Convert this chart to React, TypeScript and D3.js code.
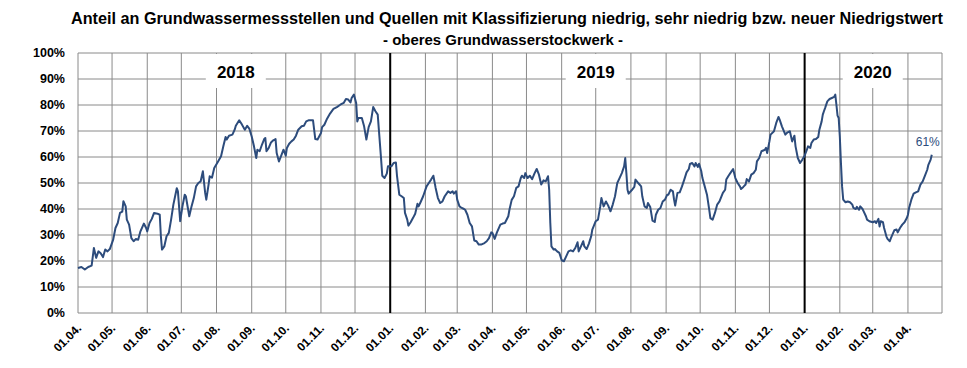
import React from 'react';
import * as d3 from 'd3';

// Share of monitoring sites with low / very low / new-low classification (in %)
const days2018 = [
  '04-01', '04-04', '04-07', '04-10', '04-13', '04-15', '04-17', '04-19', '04-21', '04-23', '04-25', '04-27', '04-29',
  '05-02', '05-04', '05-06', '05-08', '05-10', '05-11', '05-13', '05-14', '05-16', '05-18', '05-20', '05-22', '05-24', '05-26', '05-29', '05-31',
  '06-01', '06-03', '06-05', '06-07', '06-10', '06-12', '06-13', '06-14', '06-16', '06-18', '06-20', '06-22', '06-24', '06-27', '06-28', '06-30',
  '07-02', '07-04', '07-05', '07-08', '07-10', '07-12', '07-14', '07-16', '07-18', '07-20', '07-22', '07-23', '07-25', '07-26', '07-28', '07-30',
  '08-02', '08-05', '08-07', '08-09', '08-10', '08-12', '08-15', '08-17', '08-18', '08-21', '08-23', '08-25', '08-26', '08-28', '08-30',
  '09-01', '09-03', '09-05', '09-06', '09-08', '09-10', '09-12', '09-13', '09-14', '09-16', '09-18', '09-20', '09-22', '09-23', '09-25', '09-27', '09-29',
  '10-01', '10-02', '10-04', '10-06', '10-08', '10-10', '10-12', '10-15', '10-17', '10-19', '10-21', '10-25', '10-26', '10-27', '10-29',
  '11-01', '11-02', '11-04', '11-06', '11-09', '11-12', '11-15', '11-18', '11-21', '11-23', '11-25', '11-27', '11-28', '11-30',
  '12-02', '12-03', '12-04', '12-07', '12-09', '12-11', '12-13', '12-15', '12-17', '12-19', '12-21', '12-22', '12-24', '12-25', '12-27', '12-29', '12-30',
];
const share2018 = [
  17.3, 17.7, 16.7, 17.7, 18.2, 25.0, 21.2, 23.7, 23.0, 21.5, 24.4, 23.7, 24.6,
  28.2, 32.7, 34.6, 38.5, 39.0, 43.0, 41.0, 35.9, 34.0, 28.8, 27.6, 28.5, 28.2, 31.4, 34.4, 32.7,
  31.4, 34.6, 36.2, 38.5, 38.2, 37.8, 29.5, 24.4, 25.6, 29.5, 30.8, 35.9, 41.7, 48.0, 46.8, 35.3,
  41.0, 45.5, 44.9, 37.2, 41.0, 44.2, 48.7, 50.0, 50.6, 54.5, 46.2, 43.6, 49.4, 52.6, 52.0, 55.8,
  58.0, 60.3, 64.1, 67.7, 66.7, 68.2, 68.6, 70.5, 72.0, 74.1, 72.8, 71.2, 70.5, 72.0, 70.8,
  67.9, 64.1, 59.6, 62.8, 62.2, 64.7, 66.9, 67.3, 62.2, 63.5, 65.6, 66.4, 66.9, 61.5, 58.3, 60.5, 62.8,
  60.5, 63.5, 65.1, 66.0, 66.7, 68.2, 70.5, 71.8, 72.0, 73.7, 74.1, 74.1, 70.5, 66.9, 66.7,
  69.2, 71.5, 72.4, 74.4, 76.7, 78.5, 79.2, 80.1, 80.8, 82.3, 82.1, 81.0, 82.7, 84.0,
  80.8, 73.7, 75.0, 75.0, 71.8, 66.7, 71.5, 73.7, 79.2, 77.6, 76.3, 70.5, 59.0, 52.8, 51.9, 53.6, 56.4,
];

const days2019 = [
  '01-02', '01-04', '01-06', '01-07', '01-09', '01-11', '01-13', '01-14', '01-16', '01-17', '01-19', '01-21', '01-23', '01-25', '01-26', '01-28', '01-30',
  '02-02', '02-04', '02-06', '02-08', '02-10', '02-12', '02-14', '02-16', '02-18', '02-21', '02-23', '02-25', '02-26', '02-28',
  '03-01', '03-03', '03-05', '03-07', '03-08', '03-10', '03-12', '03-14', '03-16', '03-18', '03-20', '03-22', '03-25', '03-27', '03-29', '03-31',
  '04-01', '04-03', '04-05', '04-08', '04-10', '04-12', '04-15', '04-16', '04-18', '04-20', '04-22', '04-24', '04-26', '04-27', '04-29', '04-30',
  '05-02', '05-04', '05-06', '05-08', '05-10', '05-12', '05-14', '05-16', '05-18', '05-20', '05-21', '05-22', '05-23', '05-25', '05-26', '05-28', '05-30',
  '06-01', '06-03', '06-05', '06-07', '06-09', '06-11', '06-13', '06-15', '06-16', '06-18', '06-20', '06-21', '06-23', '06-25', '06-27', '06-28',
  '07-01', '07-03', '07-05', '07-06', '07-08', '07-10', '07-12', '07-14', '07-16', '07-18', '07-20', '07-22', '07-24', '07-26', '07-27', '07-28', '07-29', '07-30',
  '08-02', '08-04', '08-05', '08-08', '08-10', '08-11', '08-13', '08-15', '08-16', '08-18', '08-20', '08-22', '08-23', '08-25', '08-27', '08-29', '08-31',
  '09-02', '09-03', '09-05', '09-07', '09-08', '09-09', '09-11', '09-13', '09-15', '09-17', '09-19', '09-21', '09-22', '09-24', '09-26', '09-27', '09-29', '09-30',
  '10-02', '10-03', '10-05', '10-07', '10-09', '10-10', '10-12', '10-14', '10-16', '10-18', '10-21', '10-23', '10-24', '10-26', '10-28', '10-30',
  '11-01', '11-03', '11-05', '11-06', '11-08', '11-10', '11-11', '11-13', '11-15', '11-17', '11-19', '11-20', '11-22', '11-24', '11-27', '11-28', '11-29',
  '12-01', '12-02', '12-05', '12-07', '12-09', '12-10', '12-12', '12-15', '12-17', '12-19', '12-21', '12-23', '12-24', '12-26', '12-28', '12-30',
];
const share2019 = [
  56.4, 57.7, 57.9, 52.6, 45.5, 44.9, 44.2, 38.5, 35.9, 33.6, 34.9, 36.5, 38.2, 42.0, 41.0, 42.9, 44.9,
  48.7, 50.0, 51.3, 52.8, 48.1, 44.2, 42.3, 42.9, 44.9, 46.8, 46.2, 46.8, 45.9, 46.8,
  43.6, 41.0, 40.4, 40.0, 39.7, 37.8, 34.6, 33.3, 27.9, 27.6, 26.3, 26.3, 26.9, 27.6, 28.8, 31.0,
  30.8, 28.5, 31.0, 34.0, 34.4, 34.6, 37.2, 39.7, 43.5, 44.9, 48.1, 48.7, 51.9, 52.8, 51.9, 53.8,
  51.9, 52.8, 51.5, 53.6, 55.4, 53.2, 49.4, 51.0, 50.6, 52.6, 47.4, 34.6, 25.6, 24.4, 24.6, 23.7, 23.1,
  20.3, 19.9, 21.8, 23.7, 24.1, 23.7, 25.0, 27.2, 23.7, 25.6, 27.6, 25.6, 24.6, 26.7, 29.5, 32.1,
  35.3, 35.9, 41.0, 44.2, 41.0, 42.9, 41.3, 39.1, 41.7, 44.9, 50.0, 51.9, 53.8, 56.4, 59.6, 53.8, 47.4, 45.9,
  47.4, 48.5, 51.3, 49.7, 48.7, 44.9, 41.0, 40.4, 42.3, 40.8, 35.5, 35.0, 37.8, 39.7, 40.4, 42.9, 43.6,
  45.5, 45.5, 47.4, 46.8, 43.6, 41.3, 46.2, 46.4, 48.7, 51.3, 54.1, 55.4, 57.3, 57.7, 56.4, 57.7, 56.2, 57.4,
  54.5, 51.9, 48.7, 45.5, 39.7, 36.5, 35.9, 38.5, 41.7, 42.9, 46.2, 47.4, 51.3, 52.8, 54.1, 55.4,
  51.9, 50.0, 48.7, 47.7, 48.5, 49.4, 51.5, 50.6, 53.2, 53.8, 55.1, 58.3, 59.6, 62.2, 62.8, 63.5, 61.5,
  66.0, 68.6, 69.9, 73.1, 75.4, 74.4, 71.8, 68.6, 69.5, 69.9, 66.0, 68.2, 64.1, 59.6, 57.7, 59.0,
];

const days2020 = [
  '01-01', '01-03', '01-04', '01-06', '01-07', '01-09', '01-11', '01-13', '01-14', '01-16', '01-17', '01-18', '01-19', '01-21', '01-23', '01-25', '01-27', '01-28', '01-29', '01-30', '01-31',
  '02-01', '02-02', '02-03', '02-04', '02-06', '02-08', '02-10', '02-12', '02-13', '02-15', '02-16', '02-18', '02-19', '02-21', '02-22', '02-24', '02-25', '02-27',
  '03-01', '03-03', '03-04', '03-06', '03-07', '03-08', '03-10', '03-11', '03-13', '03-14', '03-16', '03-17', '03-19', '03-20', '03-22', '03-23', '03-25', '03-27', '03-29', '03-31',
  '04-01', '04-02', '04-04', '04-06', '04-08', '04-10', '04-12', '04-14', '04-16', '04-18', '04-19', '04-21', '04-22',
];
const share2020 = [
  60.5, 62.8, 64.1, 63.5, 65.4, 66.7, 66.9, 67.7, 70.5, 73.7, 76.3, 77.6, 78.8, 81.4, 82.3, 82.7, 83.1, 84.0, 80.1, 75.9, 75.0,
  67.9, 57.7, 48.7, 43.6, 42.6, 42.9, 42.6, 41.7, 40.4, 40.0, 40.8, 39.7, 41.0, 40.0, 39.1, 37.2, 35.9, 35.3,
  34.9, 35.3, 34.6, 36.2, 33.3, 35.3, 34.9, 32.7, 29.5, 28.5, 27.6, 28.8, 30.8, 31.8, 32.1, 31.0, 32.7, 34.0, 34.9, 36.5,
  37.8, 40.4, 43.6, 45.9, 46.4, 46.8, 49.4, 50.6, 52.8, 55.1, 57.0, 59.0, 60.9,
];

const yearLabels = ['2018', '2019', '2020'];
const yearLabelCenters = ['2018-08-18', '2019-07-01', '2020-03-01'];
const yearBreaks = ['2019-01-01', '2020-01-01'];
const yTicks = [0, 10, 20, 30, 40, 50, 60, 70, 80, 90, 100];
const lastLabel = '61%';

const title = 'Anteil an Grundwassermessstellen und Quellen mit Klassifizierung niedrig, sehr niedrig bzw. neuer Niedrigstwert';
const subtitle = '- oberes Grundwasserstockwerk -';

const parse = d3.timeParse('%Y-%m-%d');
const fmtTick = d3.timeFormat('%d.%m.');

const data = [
  ...days2018.map((d, i) => ({ date: parse(`2018-${d}`)!, v: share2018[i] })),
  ...days2019.map((d, i) => ({ date: parse(`2019-${d}`)!, v: share2019[i] })),
  ...days2020.map((d, i) => ({ date: parse(`2020-${d}`)!, v: share2020[i] })),
];

const W = 967;
const H = 368;
const plot = { left: 78, right: 942, top: 53, bottom: 313 };
const GRID = '#8a8a8a';
const LINE = '#2d4c7c';
const FONT = "'Liberation Sans', Arial, sans-serif";

export default function App() {
  const x = d3.scaleTime()
    .domain([parse('2018-04-01')!, parse('2020-05-01')!])
    .range([plot.left, plot.right]);
  const y = d3.scaleLinear().domain([0, 100]).range([plot.bottom, plot.top]);

  const months = d3.timeMonth.range(parse('2018-04-01')!, parse('2020-05-02')!);
  const labelMonths = months.slice(0, -1);

  const line = d3.line<{ date: Date; v: number }>()
    .x((d) => x(d.date))
    .y((d) => y(d.v));

  const last = data[data.length - 1];

  return (
    <svg width={W} height={H} style={{ position: 'absolute', left: 0, top: 0, background: '#fff' }}>
      <rect x={0} y={0} width={W} height={H} fill="#fff" />

      {/* Title */}
      <text x={507} y={24} textAnchor="middle" fontFamily={FONT} fontWeight="bold" fontSize={16} fill="#000"
        textLength={872} lengthAdjust="spacingAndGlyphs">{title}</text>
      <text x={503} y={45} textAnchor="middle" fontFamily={FONT} fontWeight="bold" fontSize={15} fill="#000"
        textLength={240} lengthAdjust="spacingAndGlyphs">{subtitle}</text>

      {/* Grid */}
      {yTicks.map((t) => (
        <line key={`yg-${t}`} x1={plot.left} x2={plot.right} y1={y(t)} y2={y(t)} stroke={GRID} strokeWidth={1} />
      ))}
      {months.map((m, i) => (
        <line key={`xg-${i}`} x1={x(m)} x2={x(m)} y1={plot.top} y2={plot.bottom} stroke={GRID} strokeWidth={1} />
      ))}

      {/* Year boxes */}
      {yearLabels.map((lab, i) => {
        const cx = x(parse(yearLabelCenters[i])!);
        return (
          <g key={lab}>
            <rect x={cx - 30} y={plot.top + 1} width={60} height={34} fill="#fff" />
            <text x={cx} y={78} textAnchor="middle" fontFamily={FONT} fontWeight="bold" fontSize={17} fill="#000">{lab}</text>
          </g>
        );
      })}

      {/* Year separators */}
      {yearBreaks.map((d) => (
        <line key={d} x1={x(parse(d)!)} x2={x(parse(d)!)} y1={plot.top} y2={plot.bottom} stroke="#000" strokeWidth={2} />
      ))}

      {/* Series */}
      <path d={line(data) || ''} fill="none" stroke={LINE} strokeWidth={2} strokeLinejoin="round" />
      <text x={x(last.date) - 4} y={y(last.v) - 9} textAnchor="middle" fontFamily={FONT} fontSize={12} fill={LINE}>{lastLabel}</text>

      {/* Y axis labels */}
      {yTicks.map((t) => (
        <text key={`yl-${t}`} x={65} y={y(t)} dy="0.35em" textAnchor="end" fontFamily={FONT} fontWeight="bold" fontSize={12.5} fill="#000">
          {`${t}%`}
        </text>
      ))}

      {/* X axis labels */}
      {labelMonths.map((m, i) => (
        <text key={`xl-${i}`} transform={`translate(${x(m) + 4},${plot.bottom + 16}) rotate(-45)`}
          textAnchor="end" fontFamily={FONT} fontWeight="bold" fontSize={12} fill="#000">
          {fmtTick(m)}
        </text>
      ))}
    </svg>
  );
}
